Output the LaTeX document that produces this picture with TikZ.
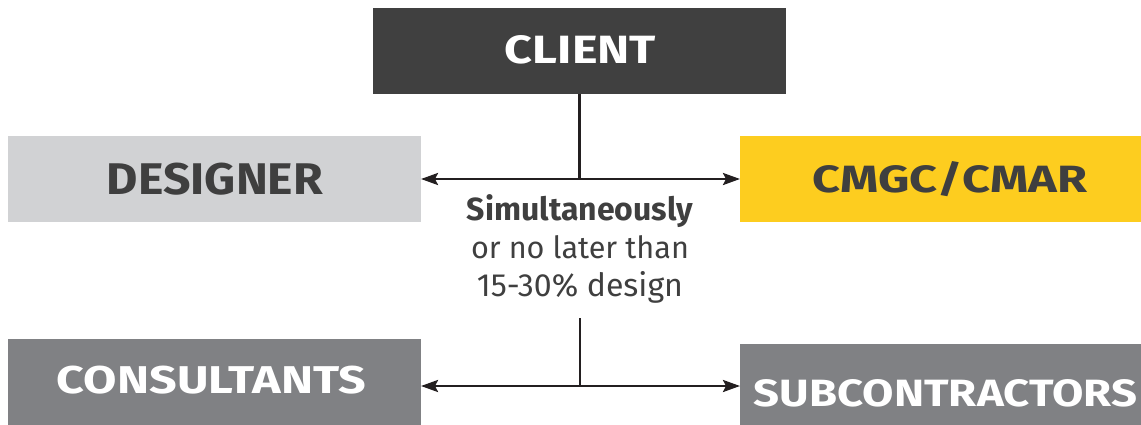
\documentclass[tikz,border=0pt]{standalone}
\usepackage{fontspec}
\setmainfont{Fira Sans}
\usetikzlibrary{arrows.meta}
\definecolor{clientfill}{HTML}{404040}
\definecolor{designfill}{HTML}{D1D2D4}
\definecolor{cmfill}{HTML}{FDCD1F}
\definecolor{subfill}{HTML}{808184}
\definecolor{darktext}{HTML}{3F3F3F}
\definecolor{linecol}{HTML}{231F20}
% label set in bold, stretched to a given width and cap height
\newcommand\fitlabel[3]{\resizebox{#1pt}{#2pt}{\bfseries #3}}
\begin{document}
\begin{tikzpicture}[x=1pt,y=-1pt,
  panel/.style={inner sep=0, outer sep=0, anchor=north west},
  lbl/.style={inner sep=0, anchor=center},
  link/.style={draw=linecol, line width=2.6pt},
  twoway/.style={link, {Stealth[length=17pt,width=12pt,inset=3pt]}-{Stealth[length=17pt,width=12pt,inset=3pt]}}]
\useasboundingbox (0,0) rectangle (1141,424);

% coloured panels
\node[panel, fill=clientfill, minimum width=413pt, minimum height=86pt] (client) at (373,8) {};
\node[panel, fill=designfill, minimum width=413pt, minimum height=86pt] (designer) at (8,136) {};
\node[panel, fill=cmfill, minimum width=401pt, minimum height=86pt] (cmgc) at (740,136) {};
\node[panel, fill=subfill, minimum width=413pt, minimum height=86pt] (consult) at (8,339) {};
\node[panel, fill=subfill, minimum width=401pt, minimum height=82pt] (subs) at (740,344) {};

% panel titles
\node[lbl, text=white] (clientlbl) at (580.5,50) {\fitlabel{151}{28}{CLIENT}};
\node[lbl, text=darktext] (designerlbl) at (215,179) {\fitlabel{216}{31.5}{DESIGNER}};
\node[lbl, text=darktext] (cmgclbl) at (950,179) {\fitlabel{274}{31}{CMGC/CMAR}};
\node[lbl, text=white] (consultlbl) at (211.5,379.7) {\fitlabel{309}{27.5}{CONSULTANTS}};
\node[lbl, text=white] (subslbl) at (945.5,393.3) {\fitlabel{383}{27}{SUBCONTRACTORS}};

% timing note
\node[inner sep=0, align=center, text=darktext, font=\fontsize{26}{38}\selectfont] (note) at (580,249)
  {\resizebox{226pt}{!}{\bfseries Simultaneously}\\
   \resizebox{218pt}{!}{or no later than}\\
   \resizebox{206pt}{!}{15-30\% design}};

% connectors
\draw[link] (client.south) -- (client.south |- designer.east);
\draw[twoway] (designer.east) -- (cmgc.west);

\coordinate (stem) at (580,318);
\coordinate (low) at (580,386);
\draw[link] (stem) -- (low);
\draw[twoway] (consult.east |- low) -- (subs.west |- low);
\end{tikzpicture}
\end{document}
